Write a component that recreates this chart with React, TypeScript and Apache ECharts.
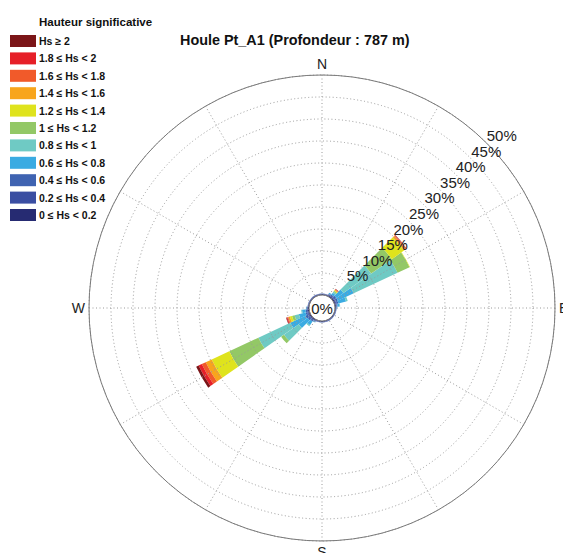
import React, { useEffect, useRef } from "react";
import * as echarts from "echarts";

// Direction of each petal (degrees, clockwise from North), 10° sectors
const directions = [
  0, 10, 20, 30, 40, 50, 60, 70, 80, 90, 100, 110, 120, 130, 140, 150, 160, 170,
  180, 190, 200, 210, 220, 230, 240, 250, 260, 270, 280, 290, 300, 310, 320, 330, 340, 350,
];

// Significant wave height classes (inner -> outer)
const binNames = [
  "0 ≤ Hs < 0.2",
  "0.2 ≤ Hs < 0.4",
  "0.4 ≤ Hs < 0.6",
  "0.6 ≤ Hs < 0.8",
  "0.8 ≤ Hs < 1",
  "1 ≤ Hs < 1.2",
  "1.2 ≤ Hs < 1.4",
  "1.4 ≤ Hs < 1.6",
  "1.6 ≤ Hs < 1.8",
  "1.8 ≤ Hs < 2",
  "Hs ≥ 2",
];

const binColors = [
  "#262b72",
  "#3a4ea2",
  "#3f63b1",
  "#3aabe2",
  "#6fcac4",
  "#93c866",
  "#dfe31d",
  "#f8a51c",
  "#f15a2a",
  "#e61f28",
  "#7b1518",
];

// Frequency (%) per direction for each class
const hs00_02 = [0.2, 0.2, 0.2, 0.25, 0.3, 0.3, 0.3, 0.3, 0.25, 0.2, 0.2, 0.2, 0.2, 0.2, 0.2, 0.2, 0.2, 0.2, 0.2, 0.2, 0.2, 0.25, 0.3, 0.3, 0.3, 0.3, 0.3, 0.25, 0.2, 0.2, 0.2, 0.2, 0.2, 0.2, 0.2, 0.2];
const hs02_04 = [0.1, 0.1, 0.1, 0.15, 0.2, 0.2, 0.2, 0.2, 0.15, 0.1, 0.1, 0.1, 0.1, 0.1, 0.1, 0.1, 0.1, 0.1, 0.1, 0.1, 0.1, 0.15, 0.2, 0.2, 0.3, 0.2, 0.2, 0.15, 0.1, 0.1, 0.1, 0.1, 0.1, 0.1, 0.1, 0.1];
const hs04_06 = [0.05, 0.05, 0.05, 0.2, 0.3, 0.5, 0.5, 0.4, 0.2, 0.1, 0.05, 0.05, 0.05, 0.05, 0.05, 0.05, 0.05, 0.05, 0.05, 0.05, 0.05, 0.1, 0.3, 0.5, 0.6, 0.4, 0.3, 0.1, 0.05, 0.05, 0.05, 0.05, 0.05, 0.05, 0.05, 0.05];
const hs06_08 = [0, 0, 0, 0.3, 0.5, 2.0, 4.0, 1.8, 0.5, 0.1, 0, 0, 0, 0, 0, 0, 0, 0, 0, 0, 0, 0.2, 1.0, 2.5, 3.8, 1.6, 0.8, 0.2, 0, 0, 0, 0, 0, 0, 0, 0];
const hs08_10 = [0, 0, 0, 0, 0.3, 7.7, 11.0, 0.4, 0.1, 0, 0, 0, 0, 0, 0, 0, 0, 0, 0, 0, 0, 0, 0.3, 4.1, 8.0, 1.0, 0.2, 0, 0, 0, 0, 0, 0, 0, 0, 0];
const hs10_12 = [0, 0, 0, 0, 0.2, 5.7, 3.0, 0, 0, 0, 0, 0, 0, 0, 0, 0, 0, 0, 0, 0, 0, 0, 0, 0.8, 7.3, 0.6, 0, 0, 0, 0, 0, 0, 0, 0, 0, 0];
const hs12_14 = [0, 0, 0, 0, 0.2, 3.4, 0.1, 0, 0, 0, 0, 0, 0, 0, 0, 0, 0, 0, 0, 0, 0, 0, 0, 0, 4.4, 0.5, 0, 0, 0, 0, 0, 0, 0, 0, 0, 0];
const hs14_16 = [0, 0, 0, 0, 0.15, 0.4, 0, 0, 0, 0, 0, 0, 0, 0, 0, 0, 0, 0, 0, 0, 0, 0, 0, 0, 1.5, 0.4, 0, 0, 0, 0, 0, 0, 0, 0, 0, 0];
const hs16_18 = [0, 0, 0, 0, 0.1, 0.2, 0, 0, 0, 0, 0, 0, 0, 0, 0, 0, 0, 0, 0, 0, 0, 0, 0, 0, 1.0, 0.2, 0, 0, 0, 0, 0, 0, 0, 0, 0, 0];
const hs18_20 = [0, 0, 0, 0, 0.1, 0.1, 0, 0, 0, 0, 0, 0, 0, 0, 0, 0, 0, 0, 0, 0, 0, 0, 0, 0, 0.8, 0.2, 0, 0, 0, 0, 0, 0, 0, 0, 0, 0];
const hs20_up = [0, 0, 0, 0, 0.05, 0.05, 0, 0, 0, 0, 0, 0, 0, 0, 0, 0, 0, 0, 0, 0, 0, 0, 0, 0, 0.6, 0.1, 0, 0, 0, 0, 0, 0, 0, 0, 0, 0];

const bins = [hs00_02, hs02_04, hs04_06, hs06_08, hs08_10, hs10_12, hs12_14, hs14_16, hs16_18, hs18_20, hs20_up];

// Radial scale (%)
const radiusMax = 50;
const radiusStep = 5;
const compassLabels: Record<number, string> = { 0: "N", 90: "E", 180: "S", 270: "W" };

const FONT = "'Liberation Sans', Arial, Helvetica, sans-serif";
const CENTER = [322, 308];
const RADII = [13, 233];

export default function App() {
  const ref = useRef<HTMLDivElement>(null);
  useEffect(() => {
    const chart = echarts.init(ref.current!, null, { renderer: "svg" });
    const dotted = { color: "#9a9a9a", width: 1, type: [1, 2.5] as any };
    chart.setOption({
      animation: false,
      backgroundColor: "#ffffff",
      textStyle: { fontFamily: FONT },
      title: [
        {
          text: "Houle Pt_A1 (Profondeur : 787 m)",
          left: 180,
          top: 33,
          padding: 0,
          textStyle: { fontSize: 14.4, fontWeight: "bold", color: "#111", fontFamily: FONT },
        },
        {
          text: "Hauteur significative",
          left: 39,
          top: 16,
          padding: 0,
          textStyle: { fontSize: 11.5, fontWeight: "bold", color: "#111", fontFamily: FONT },
        },
      ],
      legend: {
        orient: "vertical",
        left: 10,
        top: 35,
        padding: 0,
        itemWidth: 26,
        itemHeight: 12,
        itemGap: 5.4,
        icon: "rect",
        selectedMode: false,
        data: [...binNames].reverse(),
        textStyle: { fontSize: 10.5, fontWeight: "bold", color: "#111", fontFamily: FONT, padding: [0, 0, 0, -2] },
      },
      polar: [
        { center: CENTER, radius: RADII },
        { center: CENTER, radius: RADII },
        { center: CENTER, radius: RADII },
      ],
      angleAxis: [
        {
          polarIndex: 0,
          type: "value",
          min: 0,
          max: 360,
          interval: 30,
          startAngle: 90,
          clockwise: true,
          z: 5,
          axisLine: { show: true, lineStyle: { color: "#7a7a7a", width: 1 } },
          axisTick: { show: false },
          splitLine: { show: true, lineStyle: dotted },
          axisLabel: {
            show: true,
            margin: 4,
            fontSize: 14,
            color: "#222",
            fontFamily: FONT,
            formatter: (v: number) => compassLabels[v] || "",
          },
        },
        {
          polarIndex: 1,
          type: "category",
          data: directions,
          startAngle: 95,
          clockwise: true,
          boundaryGap: true,
          show: false,
        },
        {
          polarIndex: 2,
          type: "value",
          min: 0,
          max: 360,
          startAngle: 45,
          show: false,
        },
      ],
      radiusAxis: [
        {
          polarIndex: 0,
          type: "value",
          min: 0,
          max: radiusMax,
          interval: radiusStep,
          z: 5,
          axisLine: { show: false },
          axisTick: { show: false },
          axisLabel: { show: false },
          splitLine: { show: true, lineStyle: dotted },
        },
        {
          polarIndex: 1,
          type: "value",
          min: 0,
          max: radiusMax,
          show: false,
        },
        {
          polarIndex: 2,
          type: "value",
          min: 0,
          max: radiusMax,
          interval: radiusStep,
          z: 6,
          axisLine: { show: false },
          axisTick: { show: false },
          splitLine: { show: false },
          axisLabel: {
            show: true,
            margin: 0,
            align: "left",
            verticalAlign: "bottom",
            fontSize: 15,
            color: "#222",
            fontFamily: FONT,
            formatter: (v: number) => (v === 0 ? "" : v + "%"),
          },
        },
      ],
      graphic: [
        {
          type: "text",
          x: CENTER[0],
          y: CENTER[1],
          z: 20,
          style: {
            text: "0%",
            fontSize: 15,
            fontFamily: FONT,
            fill: "#222",
            align: "center",
            verticalAlign: "middle",
          },
        },
      ],
      series: binNames.map((name, i) => ({
        type: "bar",
        name,
        coordinateSystem: "polar",
        polarIndex: 1,
        stack: "hs",
        data: bins[i],
        barCategoryGap: "0%",
        itemStyle: { color: binColors[i] },
        z: 2,
      })),
    });
    return () => chart.dispose();
  }, []);
  return <div ref={ref} style={{ position: "absolute", left: 0, top: 0, width: 563, height: 553 }} />;
}
